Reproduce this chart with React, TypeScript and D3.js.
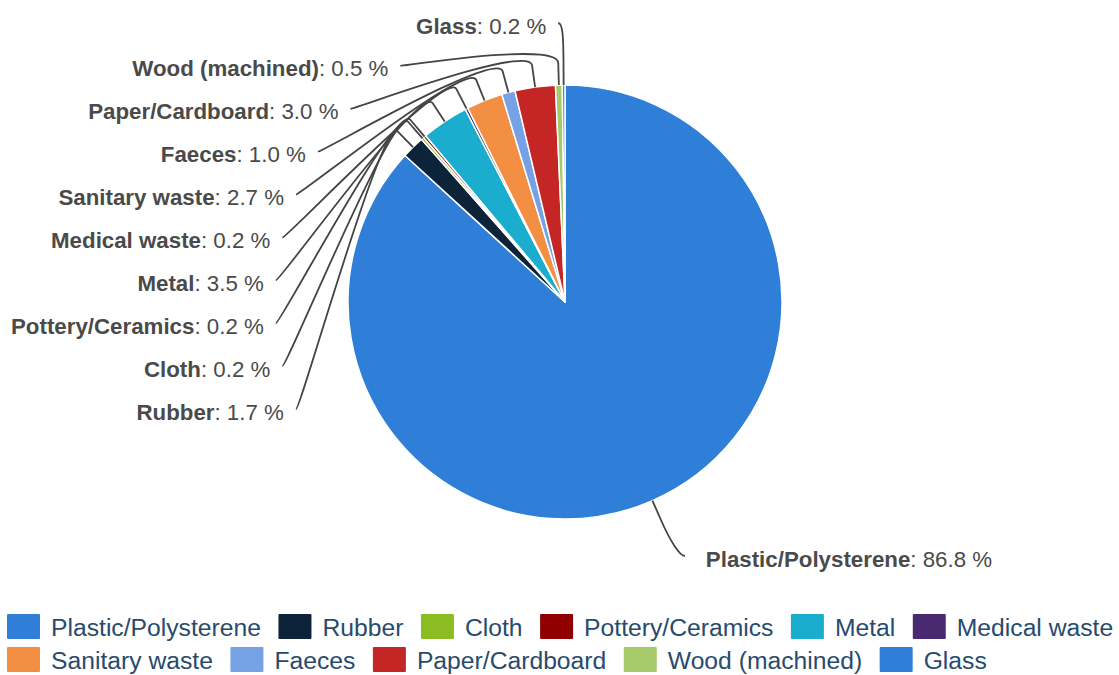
import React, { useEffect, useRef } from 'react';
import * as d3 from 'd3';

const categories = [
  'Plastic/Polysterene', 'Rubber', 'Cloth', 'Pottery/Ceramics', 'Metal', 'Medical waste',
  'Sanitary waste', 'Faeces', 'Paper/Cardboard', 'Wood (machined)', 'Glass',
];
const shares = [86.8, 1.7, 0.2, 0.2, 3.5, 0.2, 2.7, 1.0, 3.0, 0.5, 0.2];
const palette = [
  '#2f7ed8', '#0d233a', '#8bbc21', '#910000', '#1aadce',
  '#492970', '#f28f43', '#77a1e5', '#c42525', '#a6c96a',
];

const WIDTH = 1119;
const HEIGHT = 675;
const FONT = '"Liberation Sans", Arial, Helvetica, sans-serif';

interface Slice {
  name: string;
  value: number;
  color: string;
}

const PieChart: React.FC = () => {
  const svgRef = useRef<SVGSVGElement>(null);

  useEffect(() => {
    if (!svgRef.current) return;
    const svg = d3.select(svgRef.current);
    svg.selectAll('*').remove();

    const cx = 565;
    const cy = 302;
    const radius = 217;
    const labelRadius = 285; // radius + label distance
    const connectorOffset = 22;
    const slotTop = 23;
    const slotStep = 42.9;
    const labelMaxY = 556;

    const data: Slice[] = categories.map((name, i) => ({
      name,
      value: shares[i],
      color: palette[i % palette.length],
    }));
    const total = d3.sum(data, d => d.value);

    const pie = d3.pie<Slice>().sort(null).value(d => d.value);
    const arcs = pie(data);
    const arc = d3.arc<d3.PieArcDatum<Slice>>().innerRadius(0).outerRadius(radius);

    const pt = (a: number, r: number): [number, number] => [cx + r * Math.sin(a), cy - r * Math.cos(a)];
    const getX = (y: number, left: boolean) => {
      const dy = Math.max(-labelRadius, Math.min(labelRadius, y - cy));
      return cx + (left ? -1 : 1) * Math.sqrt(labelRadius * labelRadius - dy * dy);
    };

    // slices
    svg.append('g')
      .attr('transform', `translate(${cx},${cy})`)
      .selectAll('path')
      .data(arcs)
      .join('path')
      .attr('d', arc)
      .attr('fill', d => d.data.color)
      .attr('stroke', '#ffffff')
      .attr('stroke-width', 1.5)
      .attr('stroke-linejoin', 'round');

    // label placement
    type Lab = { d: d3.PieArcDatum<Slice>; mid: number; left: boolean; y: number; x: number; natY: number };
    const labs: Lab[] = arcs.map(d => {
      const mid = (d.startAngle + d.endAngle) / 2;
      const natY = pt(mid, labelRadius)[1];
      return { d, mid, left: mid > Math.PI, y: natY, x: 0, natY };
    });

    const leftLabs = labs.filter(l => l.left).sort((a, b) => a.natY - b.natY);
    leftLabs.forEach((l, i) => {
      l.y = slotTop + i * slotStep;
      l.x = getX(i === 0 ? l.natY : l.y, true);
    });
    labs.filter(l => !l.left).forEach(l => {
      l.y = Math.min(l.natY, labelMaxY);
      l.x = getX(l.natY, false);
    });

    const connectors = svg.append('g');
    const labels = svg.append('g')
      .attr('font-family', FONT)
      .attr('font-size', 22.3)
      .attr('fill', '#4a4a4a');

    labs.forEach(l => {
      const [x2, y2] = pt(l.mid, radius + connectorOffset);
      const [x3, y3] = pt(l.mid, radius);
      const sx = l.x + (l.left ? -5 : 5);
      const path = `M${sx},${l.y}C${l.x},${l.y} ${2 * x2 - x3},${2 * y2 - y3} ${x2},${y2}L${x3},${y3}`;
      connectors.append('path')
        .attr('d', path)
        .attr('fill', 'none')
        .attr('stroke', '#444444')
        .attr('stroke-width', 1.8);

      const pct = (l.d.data.value / total * 100).toFixed(1);
      const t = labels.append('text')
        .attr('x', l.left ? l.x - 17 : l.x + 26)
        .attr('y', l.y + 10.5)
        .attr('text-anchor', l.left ? 'end' : 'start');
      t.append('tspan').attr('font-weight', 'bold').text(l.d.data.name);
      t.append('tspan').text(`: ${pct} %`);
    });

    // legend
    const legend = svg.append('g')
      .attr('font-family', FONT)
      .attr('font-size', 24.7)
      .attr('fill', '#274b6d');
    const legendLeft = 7;
    const legendMax = WIDTH;
    const symW = 33;
    const symH = 25;
    const textGap = 44;
    const itemGap = 17.5;
    const rowTop = 614;
    const rowStep = 33;
    let lx = legendLeft;
    let row = 0;
    data.forEach(d => {
      const g = legend.append('g');
      const txt = g.append('text').text(d.name);
      const w = (txt.node() as SVGTextElement).getComputedTextLength();
      if (lx + textGap + w > legendMax && lx > legendLeft) {
        lx = legendLeft;
        row += 1;
      }
      const top = rowTop + row * rowStep;
      g.insert('rect', 'text')
        .attr('x', lx)
        .attr('y', top)
        .attr('width', symW)
        .attr('height', symH)
        .attr('rx', 1)
        .attr('fill', d.color);
      txt.attr('x', lx + textGap).attr('y', top + symH / 2 + 9);
      lx += textGap + w + itemGap;
    });
  }, []);

  return <svg ref={svgRef} width={WIDTH} height={HEIGHT} style={{ display: 'block' }} />;
};

export default function App() {
  return (
    <div style={{ position: 'absolute', left: 0, top: 0, width: WIDTH, height: HEIGHT, background: '#ffffff' }}>
      <PieChart />
    </div>
  );
}
